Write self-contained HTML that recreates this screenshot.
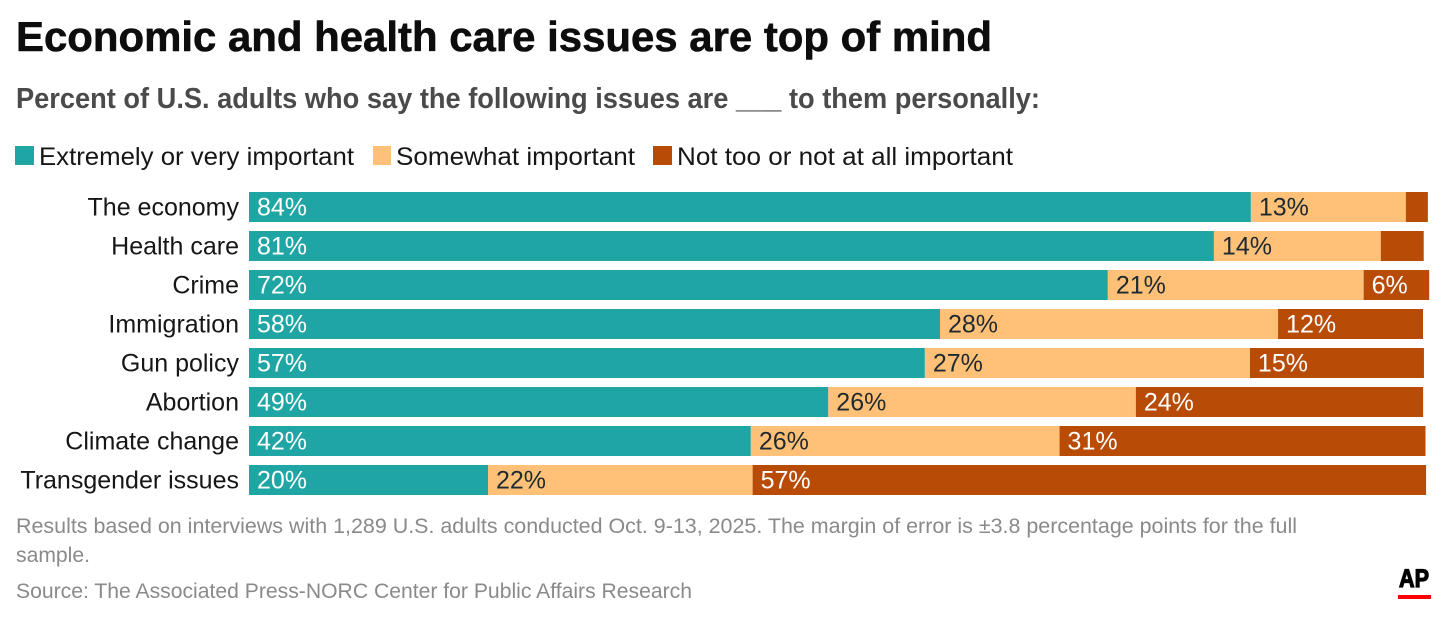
<!DOCTYPE html>
<html lang="en">
<head>
<meta charset="utf-8">
<title>Economic and health care issues are top of mind</title>
<style>
  html, body { margin: 0; padding: 0; background: #ffffff; }
  body { width: 1456px; height: 623px; overflow: hidden; }
  svg { display: block; font-family: "Liberation Sans", sans-serif; }
</style>
</head>
<body>
<svg id="chart" xmlns="http://www.w3.org/2000/svg" width="1456" height="623" viewBox="0 0 1456 623">
  <rect x="0" y="0" width="1456" height="623" fill="#ffffff"/>
  <text x="16" y="51" font-size="42" font-weight="700" fill="#0d0d0d" stroke="#0d0d0d" stroke-width="0.6" textLength="976" lengthAdjust="spacingAndGlyphs">Economic and health care issues are top of mind</text>
  <text x="16" y="108" font-size="29" font-weight="700" fill="#4a4a4a" textLength="1024" lengthAdjust="spacingAndGlyphs">Percent of U.S. adults who say the following issues are ___ to them personally:</text>

  <g>
    <rect x="15" y="146" width="19" height="19" fill="#1fa6a4"/>
    <text x="39" y="165" font-size="25" fill="#161616" textLength="315" lengthAdjust="spacingAndGlyphs">Extremely or very important</text>
    <rect x="373" y="146" width="18" height="19" fill="#ffc178"/>
    <text x="396" y="165" font-size="25" fill="#161616" textLength="239" lengthAdjust="spacingAndGlyphs">Somewhat important</text>
    <rect x="653" y="146" width="19" height="19" fill="#b84c06"/>
    <text x="677" y="165" font-size="25" fill="#161616" textLength="336" lengthAdjust="spacingAndGlyphs">Not too or not at all important</text>
  </g>

  <g id="bars"></g>

  <g>
    <text x="16" y="533" font-size="21.5" fill="#8a8a8a" textLength="1281" lengthAdjust="spacingAndGlyphs">Results based on interviews with 1,289 U.S. adults conducted Oct. 9-13, 2025. The margin of error is ±3.8 percentage points for the full</text>
    <text x="16" y="562" font-size="21.5" fill="#8a8a8a" textLength="74" lengthAdjust="spacingAndGlyphs">sample.</text>
    <text x="16" y="598" font-size="21.5" fill="#8a8a8a" textLength="676" lengthAdjust="spacingAndGlyphs">Source: The Associated Press-NORC Center for Public Affairs Research</text>
  </g>

  <g>
    <text x="1399" y="587" font-size="25" font-weight="700" fill="#000000" stroke="#000000" stroke-width="1.2" textLength="30" lengthAdjust="spacingAndGlyphs">AP</text>
    <rect x="1398" y="595" width="33" height="4" fill="#ff0000"/>
  </g>
</svg>
<script>
// Chart data (percent of U.S. adults)
const categories = ["The economy", "Health care", "Crime", "Immigration", "Gun policy", "Abortion", "Climate change", "Transgender issues"];
const extremelyOrVery = [84.05, 80.95, 72.05, 57.97, 56.7, 48.6, 42.1, 20.05];
const somewhat = [13.0, 14.0, 21.46, 28.36, 27.27, 25.8, 25.9, 22.2];
const notTooOrNotAtAll = [1.85, 3.6, 5.5, 12.16, 14.6, 24.1, 30.7, 56.5];
const seriesNames = ["extremely-or-very", "somewhat", "not-too"];

const svgNS = "http://www.w3.org/2000/svg";
const barsGroup = document.getElementById("bars");
const seriesValues = [extremelyOrVery, somewhat, notTooOrNotAtAll];
const seriesFill = ["#1fa6a4", "#ffc178", "#b84c06"];
const labelFill = ["#ffffff", "#1f2a30", "#ffffff"];
const minLabelledValue = 5;

function xScale(v) { return 249 + v * 11.92; }
function yScale(i) { return 192 + i * 39; }
const barHeight = 30;

function slug(s) { return s.toLowerCase().replace(/\s+/g, "-"); }

categories.forEach(function (cat, i) {
  const y = yScale(i);

  const catLabel = document.createElementNS(svgNS, "text");
  
  
  catLabel.setAttribute("x", 239);
  catLabel.setAttribute("y", y + 23.5);
  catLabel.setAttribute("text-anchor", "end");
  catLabel.setAttribute("font-size", "25");
  catLabel.setAttribute("fill", "#161616");
  catLabel.textContent = cat;
  barsGroup.appendChild(catLabel);

  let cumulative = 0;
  seriesValues.forEach(function (series, s) {
    const value = series[i];
    const x0 = xScale(cumulative);
    const x1 = xScale(cumulative + value);
    cumulative += value;

    const seg = document.createElementNS(svgNS, "rect");
    
    
    seg.setAttribute("x", x0);
    seg.setAttribute("y", y);
    seg.setAttribute("width", x1 - x0);
    seg.setAttribute("height", barHeight);
    seg.setAttribute("fill", seriesFill[s]);
    barsGroup.appendChild(seg);

    if (value >= minLabelledValue) {
      const valueLabel = document.createElementNS(svgNS, "text");
      
      
      valueLabel.setAttribute("x", x0 + 8);
      valueLabel.setAttribute("y", y + 23.5);
      valueLabel.setAttribute("font-size", "25");
      valueLabel.setAttribute("fill", labelFill[s]);
      valueLabel.textContent = Math.round(value) + "%";
      barsGroup.appendChild(valueLabel);
    }
  });
});
</script>
</body>
</html>
